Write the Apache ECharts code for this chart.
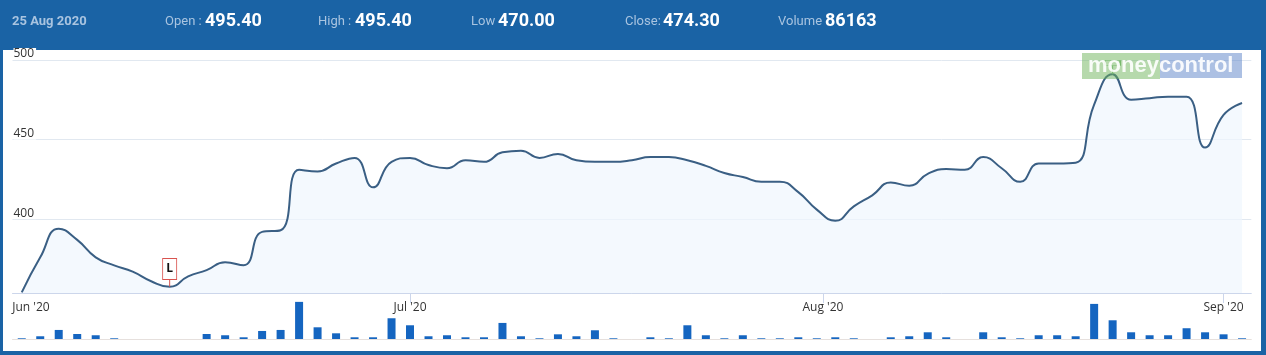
<!DOCTYPE html>
<html>
<head>
<meta charset="utf-8">
<title>Price chart</title>
<script src="https://cdn.jsdelivr.net/npm/echarts@6/dist/echarts.min.js"></script>
<style>
html, body { margin: 0; padding: 0; background: #fff; }
#chart { width: 1266px; height: 355px; }
</style>
</head>
<body>
<div id="chart"></div>
<script>
// Trading days shown on the chart
const dates = [
    '2020-06-02', '2020-06-03', '2020-06-04', '2020-06-05', '2020-06-08', '2020-06-09', '2020-06-10',
    '2020-06-11', '2020-06-12', '2020-06-15', '2020-06-16', '2020-06-17', '2020-06-18', '2020-06-19',
    '2020-06-22', '2020-06-23', '2020-06-24', '2020-06-25', '2020-06-26', '2020-06-29', '2020-06-30',
    '2020-07-01', '2020-07-02', '2020-07-03', '2020-07-06', '2020-07-07', '2020-07-08', '2020-07-09',
    '2020-07-10', '2020-07-13', '2020-07-14', '2020-07-15', '2020-07-16', '2020-07-17', '2020-07-20',
    '2020-07-21', '2020-07-22', '2020-07-23', '2020-07-24', '2020-07-27', '2020-07-28', '2020-07-29',
    '2020-07-30', '2020-07-31', '2020-08-03', '2020-08-04', '2020-08-05', '2020-08-06', '2020-08-07',
    '2020-08-10', '2020-08-11', '2020-08-12', '2020-08-13', '2020-08-14', '2020-08-17', '2020-08-18',
    '2020-08-19', '2020-08-20', '2020-08-21', '2020-08-24', '2020-08-25', '2020-08-26', '2020-08-27',
    '2020-08-28', '2020-08-31', '2020-09-01', '2020-09-02'
];

const closePrices = [
    354, 376, 394, 387, 376, 371, 367, 361, 357.5, 364,
    368, 373, 371, 392, 393, 431, 430, 435, 438.5, 420,
    436, 438.5, 434, 432, 437, 436, 442, 443, 438.5, 441,
    437, 436, 436, 437, 439, 439, 437, 433.5, 429, 426.5,
    423.5, 423.5, 417, 406, 399, 408, 415, 423, 421, 428.5,
    431.5, 431, 439, 432, 423.5, 435, 435, 435.5, 472, 491,
    475, 476, 477, 477, 445, 465.5, 473
];

const volumes = [
    9000, 35000, 116000, 64000, 48000, 9000, 0, 0, 0, 0,
    64000, 48000, 22000, 103000, 116000, 476000, 150000, 73000, 22000, 22000,
    266000, 176000, 35000, 48000, 22000, 22000, 206000, 35000, 9000, 60000,
    35000, 112000, 9000, 0, 22000, 9000, 176000, 48000, 9000, 48000,
    9000, 9000, 22000, 9000, 22000, 9000, 0, 22000, 35000, 86000,
    22000, 0, 86000, 22000, 9000, 48000, 48000, 35000, 450000, 240000,
    86163, 48000, 48000, 138000, 86000, 60000, 9000
];

// Month ticks, in trading-day index units
const monthTickPos = [21, 43.33, 65];
const monthLabelPos = [0.5, 21, 43.33, 65];
const monthLabels = ["Jun '20", "Jul '20", "Aug '20", "Sep '20"];
const priceTicks = [400, 450, 500];

// Header
const headerDate = '25 Aug 2020';
const headerLabels = ['Open :', 'High :', 'Low', 'Close:', 'Volume'];
const headerValues = ['495.40', '495.40', '470.00', '474.30', '86163'];

const lowIndex = 8;
const highIndex = 59;

// Layout
const headerLabelX = [165, 318, 471, 625, 778];
const headerValueX = [205, 355, 498, 663, 825];
const blue = '#1a63a5';
const labelBlue = '#a9c4e0';

const chart = echarts.init(document.getElementById('chart'));

const headerGraphics = [
    { type: 'rect', shape: { x: 0, y: 0, width: 1266, height: 50 }, style: { fill: blue } },
    { type: 'rect', shape: { x: 0, y: 50, width: 3, height: 305 }, style: { fill: blue } },
    { type: 'rect', shape: { x: 1261, y: 50, width: 5, height: 305 }, style: { fill: blue } },
    { type: 'rect', shape: { x: 0, y: 351, width: 1266, height: 4 }, style: { fill: blue } },
    {
        type: 'text', x: 12, y: 22,
        style: { text: headerDate, fill: labelBlue, font: 'bold 13px Roboto', verticalAlign: 'middle' }
    }
];
headerLabels.forEach((lab, i) => {
    headerGraphics.push({
        type: 'text', x: headerLabelX[i], y: 22,
        style: { text: lab, fill: labelBlue, font: '13px Roboto', verticalAlign: 'middle' }
    });
    headerGraphics.push({
        type: 'text', x: headerValueX[i], y: 21,
        style: { text: headerValues[i], fill: '#fff', font: 'bold 18px Roboto', verticalAlign: 'middle' }
    });
});

// moneycontrol watermark
const watermark = [
    { type: 'rect', z: 100, shape: { x: 1082, y: 53, width: 78, height: 26 }, style: { fill: 'rgba(110,180,90,0.5)' } },
    { type: 'rect', z: 100, shape: { x: 1160, y: 53, width: 82, height: 25 }, style: { fill: 'rgba(90,130,200,0.5)' } },
    {
        type: 'text', z: 101, x: 1088, y: 66,
        style: { text: 'moneycontrol', fill: 'rgba(255,255,255,0.9)', font: 'bold 22px "Liberation Sans"', verticalAlign: 'middle' }
    }
];

const option = {
    animation: false,
    backgroundColor: '#fff',
    textStyle: { fontFamily: '"Open Sans", sans-serif' },
    graphic: headerGraphics.concat(watermark),
    grid: [
        { left: 12.5, right: 14.7, top: 50, height: 243 },
        { left: 12.5, right: 14.7, top: 300, height: 39 }
    ],
    xAxis: [
        {
            type: 'category', gridIndex: 0, data: dates, boundaryGap: true, position: 'bottom',
            axisLine: { lineStyle: { color: '#ccd6eb' } },
            axisTick: { show: false },
            axisLabel: { show: false }
        },
        {
            type: 'category', gridIndex: 1, data: dates, boundaryGap: true, position: 'bottom',
            axisLine: { lineStyle: { color: '#e6e0dd' } },
            axisTick: { show: false },
            axisLabel: { show: false }
        },
        {
            type: 'value', gridIndex: 0, min: -0.5, max: 66.5, position: 'bottom',
            axisLine: { show: false },
            splitLine: { show: false },
            axisTick: { show: true, customValues: monthTickPos, length: 10, lineStyle: { color: '#ccd6eb' } },
            axisLabel: {
                customValues: monthLabelPos,
                formatter: v => monthLabels[monthLabelPos.indexOf(v)],
                margin: 9, fontSize: 12, color: '#333', verticalAlign: 'top'
            }
        }
    ],
    yAxis: [
        {
            type: 'value', gridIndex: 0, min: 353.6, max: 506.3,
            axisLine: { show: false },
            axisTick: { show: false, customValues: priceTicks },
            axisLabel: {
                customValues: priceTicks, inside: true, margin: 1,
                verticalAlign: 'bottom', color: '#333', fontSize: 12,
                backgroundColor: '#fff', padding: [0, 2, 0, 0]
            },
            splitLine: { show: true, lineStyle: { color: '#e1e8f0' } }
        },
        {
            type: 'value', gridIndex: 1, min: 0, max: 500000, show: false
        }
    ],
    series: [
        {
            type: 'line', xAxisIndex: 0, yAxisIndex: 0,
            data: closePrices, smooth: true, symbol: 'none',
            lineStyle: { color: '#3a5f84', width: 2 },
            areaStyle: { color: '#f0f6fd' },
            markPoint: {
                symbol: 'rect', silent: true, animation: false,
                data: [
                    {
                        coord: [dates[lowIndex], closePrices[lowIndex]], symbolSize: [1, 7], symbolOffset: [0, -3.5],
                        itemStyle: { color: '#d9534f' }, label: { show: false }
                    },
                    {
                        coord: [dates[lowIndex], closePrices[lowIndex]], symbolSize: [14, 21], symbolOffset: [0, -17.8],
                        itemStyle: { color: '#fff', borderColor: '#d9534f', borderWidth: 1 },
                        label: { show: true, formatter: 'L', color: '#111', fontWeight: 'bold', fontSize: 12 }
                    },
                    {
                        coord: [dates[highIndex], closePrices[highIndex]], symbolSize: [1, 9], symbolOffset: [0, -4.5],
                        itemStyle: { color: '#7fbf7f' }, label: { show: false }
                    },
                    {
                        coord: [dates[highIndex], closePrices[highIndex]], symbolSize: [15, 5], symbolOffset: [0, -11.3],
                        itemStyle: { color: '#fff', borderColor: '#7fbf7f', borderWidth: 1 },
                        label: { show: false }
                    }
                ]
            }
        },
        {
            type: 'bar', xAxisIndex: 1, yAxisIndex: 1,
            data: volumes, barWidth: 8,
            itemStyle: { color: '#1565c0' }
        }
    ]
};

chart.setOption(option);
</script>
</body>
</html>
